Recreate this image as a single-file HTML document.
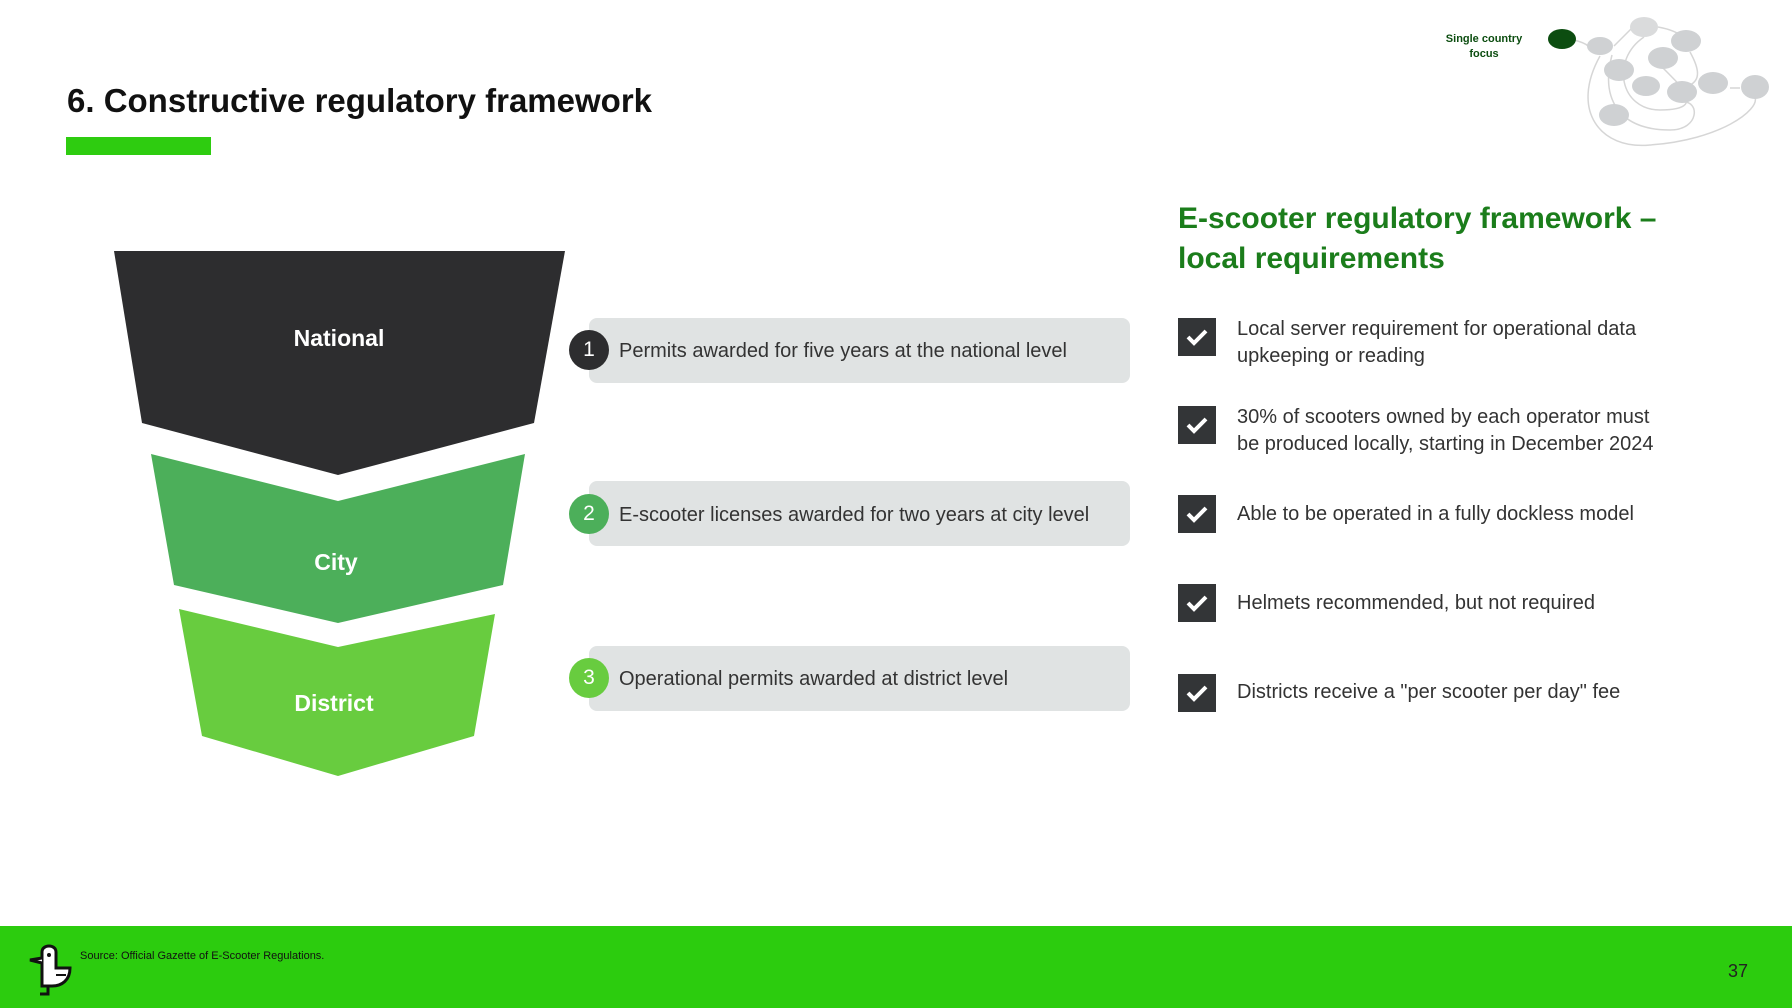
<!DOCTYPE html>
<html><head><meta charset="utf-8"><style>
body{margin:0;width:1792px;height:1008px;position:relative;background:#fff;font-family:"Liberation Sans",sans-serif;overflow:hidden}
.a{position:absolute}
.bar{position:absolute;left:589px;width:541px;height:65px;background:#e0e3e3;border-radius:8px}
.bt{position:absolute;left:619px;font-size:20px;color:#333;line-height:24px}
.num{position:absolute;left:569px;width:40px;height:40px;border-radius:50%;color:#fff;font-size:21px;text-align:center;line-height:40px}
.cb{position:absolute;left:1178px;width:38px;height:38px;background:#333537}
.it{position:absolute;left:1237px;font-size:20px;color:#333;line-height:27px}
</style></head><body>
<div class="a" style="left:67px;top:82px;font-size:33px;font-weight:bold;color:#111">6. Constructive regulatory framework</div>
<div class="a" style="left:66px;top:137px;width:145px;height:18px;background:#2ecc10"></div>

<svg class="a" style="left:0;top:0" width="1792" height="1008">
<polygon points="114,251 565,251 534,423 338,475 142,423" fill="#2d2d2f"/>
<polygon points="151,454 338,501 525,454 503,585 338,623 174,585" fill="#4caf5a"/>
<polygon points="179,609 338,647 495,614 474,736 338,776 202,736" fill="#68cc3f"/>
<text x="339" y="346" fill="#fff" font-size="23" font-weight="bold" text-anchor="middle" font-family="Liberation Sans">National</text>
<text x="336" y="570" fill="#fff" font-size="23" font-weight="bold" text-anchor="middle" font-family="Liberation Sans">City</text>
<text x="334" y="711" fill="#fff" font-size="23" font-weight="bold" text-anchor="middle" font-family="Liberation Sans">District</text>
<g fill="none" stroke="#d6d6d6" stroke-width="1.5">
<path d="M1600,56 C1570,110 1600,150 1650,145 C1720,140 1760,110 1755,97"/>
<path d="M1612,55 C1600,100 1620,130 1670,130 C1700,130 1700,100 1682,102"/>
<path d="M1644,37 C1610,60 1620,110 1660,110 C1690,110 1690,100 1682,95"/>
<path d="M1658,27 C1675,30 1680,35 1686,38"/>
<path d="M1690,52 C1700,70 1700,80 1690,85"/>
<path d="M1574,40 C1582,42 1586,44 1588,46"/>
<path d="M1614,46 C1625,35 1630,30 1632,28"/>
<path d="M1663,68 C1675,80 1680,85 1682,88"/>
<path d="M1700,87 L1725,85"/>
<path d="M1740,88 L1730,88"/>
</g>
<ellipse cx="1562" cy="39" rx="14" ry="10" fill="#0c4d10"/>
<g fill="#cfd1d3">
<ellipse cx="1600" cy="46" rx="13" ry="9"/>
<ellipse cx="1644" cy="27" rx="14" ry="10" fill="#dadbdc"/>
<ellipse cx="1686" cy="41" rx="15" ry="11"/>
<ellipse cx="1619" cy="70" rx="15" ry="11"/>
<ellipse cx="1663" cy="58" rx="15" ry="11"/>
<ellipse cx="1646" cy="86" rx="14" ry="10"/>
<ellipse cx="1682" cy="92" rx="15" ry="11"/>
<ellipse cx="1713" cy="83" rx="15" ry="11"/>
<ellipse cx="1755" cy="87" rx="14" ry="12"/>
<ellipse cx="1614" cy="115" rx="15" ry="11"/>
</g>
<text x="1484" y="42" fill="#0c4d10" font-size="11" font-weight="bold" text-anchor="middle" font-family="Liberation Sans">Single country</text>
<text x="1484" y="57" fill="#0c4d10" font-size="11" font-weight="bold" text-anchor="middle" font-family="Liberation Sans">focus</text>
</svg>

<div class="bar" style="top:318px"></div>
<div class="bar" style="top:481px"></div>
<div class="bar" style="top:646px"></div>
<div class="num" style="top:330px;background:#2d2d2f">1</div>
<div class="num" style="top:494px;background:#4caf5a">2</div>
<div class="num" style="top:658px;background:#68cc3f">3</div>
<div class="bt" style="top:339px">Permits awarded for five years at the national level</div>
<div class="bt" style="top:503px">E-scooter licenses awarded for two years at city level</div>
<div class="bt" style="top:667px">Operational permits awarded at district level</div>

<div class="a" style="left:1178px;top:199px;font-size:30px;font-weight:bold;color:#1b7d1b;line-height:40px">E-scooter regulatory framework –<br>local requirements</div>

<svg width="0" height="0" style="position:absolute"><defs><symbol id="ck" viewBox="0 0 38 38"><path d="M10,19 L16,25 L28,13" fill="none" stroke="#fff" stroke-width="4"/></symbol></defs></svg>
<div class="cb" style="top:318px"><svg width="38" height="38"><use href="#ck"/></svg></div>
<div class="cb" style="top:406px"><svg width="38" height="38"><use href="#ck"/></svg></div>
<div class="cb" style="top:495px"><svg width="38" height="38"><use href="#ck"/></svg></div>
<div class="cb" style="top:584px"><svg width="38" height="38"><use href="#ck"/></svg></div>
<div class="cb" style="top:674px"><svg width="38" height="38"><use href="#ck"/></svg></div>
<div class="it" style="top:316px">Local server requirement for operational data<br>upkeeping or reading</div>
<div class="it" style="top:404px">30% of scooters owned by each operator must<br>be produced locally, starting in December 2024</div>
<div class="it" style="top:501px">Able to be operated in a fully dockless model</div>
<div class="it" style="top:590px">Helmets recommended, but not required</div>
<div class="it" style="top:679px">Districts receive a "per scooter per day" fee</div>

<div class="a" style="left:0;top:926px;width:1792px;height:82px;background:#2ccc0e"></div>
<svg class="a" style="left:22px;top:940px" width="52" height="58">
<path d="M20,30 L20,12 C20,4 34,4 34,12 L34,28 L48,28 C48,40 40,46 30,46 L20,46 Z" fill="#fff" stroke="#111" stroke-width="3"/>
<path d="M20,18 L8,20 L20,23" fill="#fff" stroke="#111" stroke-width="3"/>
<circle cx="27" cy="15" r="2" fill="#111"/>
<path d="M34,35 L44,35" stroke="#111" stroke-width="2"/>
<path d="M26,46 L26,54 L18,54" fill="none" stroke="#111" stroke-width="3"/>
</svg>
<div class="a" style="left:80px;top:950px;font-size:11px;color:#111">Source: Official Gazette of E-Scooter Regulations.</div>
<div class="a" style="left:1728px;top:961px;font-size:18px;color:#222">37</div>
</body></html>
